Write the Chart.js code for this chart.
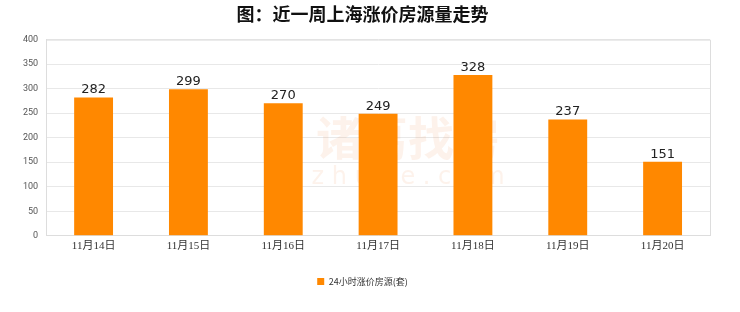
<!DOCTYPE html>
<html>
<head>
<meta charset="utf-8">
<script src="https://cdn.jsdelivr.net/npm/chart.js"></script>
<style>
  html, body { margin: 0; padding: 0; background: #fff; }
  #wrap { width: 740px; height: 312px; position: relative; }
</style>
</head>
<body>
<div id="wrap"><canvas id="barChart" width="740" height="312"></canvas></div>
<script>
const titleText = "图：近一周上海涨价房源量走势";
const categories = ["11月14日", "11月15日", "11月16日", "11月17日", "11月18日", "11月19日", "11月20日"];
const seriesName = "24小时涨价房源(套)";
const seriesValues = [282, 299, 270, 249, 328, 237, 151];
const yTicks = [0, 50, 100, 150, 200, 250, 300, 350, 400];

// value labels above each bar
const valueLabels = {
  id: "valueLabels",
  afterDatasetsDraw(chart) {
    const ctx = chart.ctx;
    const meta = chart.getDatasetMeta(0);
    ctx.save();
    ctx.font = "13px 'DejaVu Sans', sans-serif";
    ctx.fillStyle = "#222";
    ctx.textAlign = "center";
    ctx.textBaseline = "bottom";
    meta.data.forEach((bar, i) => {
      ctx.fillText(seriesValues[i], bar.x, bar.y - 1);
    });
    ctx.restore();
  }
};

// faint watermark behind the bars
const watermark = {
  id: "watermark",
  beforeDatasetsDraw(chart) {
    const ctx = chart.ctx;
    const a = chart.chartArea;
    const cx = (a.left + a.right) / 2;
    ctx.save();
    ctx.fillStyle = "rgba(240,150,90,0.12)";
    ctx.textAlign = "center";
    ctx.textBaseline = "middle";
    ctx.font = "bold 46px 'Noto Sans CJK SC'";
    ctx.fillText("诸葛找房", cx + 30, 138);
    ctx.font = "24px 'DejaVu Sans'";
    ctx.fillText("z h u g e . c o m", cx + 30, 178);
    ctx.restore();
  }
};

new Chart(document.getElementById("barChart"), {
  type: "bar",
  data: {
    labels: categories,
    datasets: [{
      label: seriesName,
      data: seriesValues,
      backgroundColor: "#ff8800",
      borderWidth: 0,
      barPercentage: 0.41,
      categoryPercentage: 1
    }]
  },
  options: {
    responsive: false,
    animation: false,
    devicePixelRatio: 1,
    layout: { padding: { left: 15, right: 30, top: 0, bottom: 16 } },
    plugins: {
      title: {
        display: true,
        text: titleText,
        color: "#111",
        font: { family: "'Noto Sans CJK SC'", size: 18, weight: "bold" },
        padding: { top: 3, bottom: 15 }
      },
      legend: {
        position: "bottom",
        labels: {
          boxWidth: 7,
          boxHeight: 7,
          color: "#333",
          font: { family: "'Noto Sans CJK SC'", size: 9 },
          padding: 14
        }
      },
      tooltip: { enabled: false }
    },
    scales: {
      x: {
        grid: { display: false, drawTicks: false },
        border: { color: "#ddd" },
        afterFit(scale) { scale.height += 6; },
        ticks: {
          color: "#333",
          padding: 4,
          maxRotation: 0,
          font: { family: "'Liberation Serif', 'Noto Sans CJK SC'", size: 11 }
        }
      },
      y: {
        min: 0,
        max: 400,
        afterBuildTicks(scale) { scale.ticks = yTicks.map(v => ({ value: v })); },
        grid: { color: "#e8e8e8", drawTicks: false },
        border: { color: "#ddd" },
        ticks: {
          color: "#555",
          padding: 8,
          font: { family: "Roboto", size: 9 }
        }
      }
    }
  },
  plugins: [watermark, valueLabels, {
    id: "frame",
    afterDraw(chart) {
      const a = chart.chartArea;
      const ctx = chart.ctx;
      ctx.save();
      ctx.strokeStyle = "#ddd";
      ctx.lineWidth = 1;
      ctx.beginPath();
      ctx.moveTo(a.left, a.top + 0.5);
      ctx.lineTo(a.right + 0.5, a.top + 0.5);
      ctx.lineTo(a.right + 0.5, a.bottom);
      ctx.stroke();
      ctx.restore();
    }
  }]
});
</script>
</body>
</html>
